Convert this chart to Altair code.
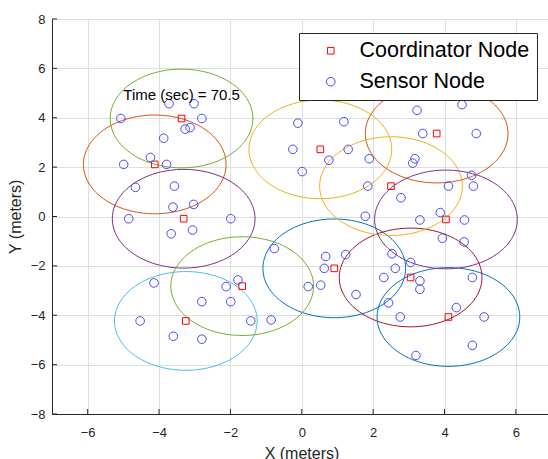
import altair as alt
import numpy as np
import pandas as pd

# Coordinator nodes, in plotting order; each one gets the next colour of the cycle
coord_x = [0.91, -4.12, 0.52, -3.31, -3.37, -3.25, 3.05, 4.11, 3.78, 2.50, 4.04, -1.67]
coord_y = [-2.10, 2.11, 2.72, -0.09, 3.97, -4.23, -2.47, -4.07, 3.36, 1.23, -0.12, -2.82]
range_colors = ["#0072BD", "#D95319", "#EDB120", "#7E2F8E", "#77AC30", "#4DBEEE", "#A2142F"]
coverage_radius = 2.0

# Sensor nodes
sensor_x = [-5.07, -3.72, -3.02, -2.80, -3.27, -3.13, -3.87, -4.24, -4.99, -3.79,
            -4.66, -3.57, -3.61, -3.03, -4.85, -1.99,
            3.23, 4.49, -0.11, 1.18, -0.25, 0.76, 1.30, 0.01, 1.89, 3.39,
            4.89, 3.17, 3.11, 4.76, 4.81, 4.11, 1.85, 2.78, 1.78, 3.31, 3.88, 4.56,
            -3.66, -3.06, -0.77, -4.14, -1.79, -2.12, -2.80, -1.99, -4.53, -1.43,
            -0.86, -3.60, -2.80,
            0.67, 1.23, 0.63, 0.18, 0.53, 1.52, 2.53, 2.62, 2.30, 3.05, 3.31, 3.31,
            2.43, 2.76, 3.94, 4.55, 4.78, 4.33, 5.11, 4.78, 3.20]
sensor_y = [3.97, 4.57, 4.57, 3.97, 3.54, 3.60, 3.17, 2.39, 2.11, 2.11,
            1.18, 1.23, 0.38, 0.49, -0.09, -0.09,
            4.30, 4.53, 3.78, 3.84, 2.72, 2.28, 2.72, 1.82, 2.34, 3.36,
            3.36, 2.34, 2.16, 1.67, 1.23, 1.23, 1.23, 0.76, 0.01, -0.14, 0.16, -0.14,
            -0.70, -0.55, -1.30, -2.69, -2.57, -2.84, -3.45, -3.45, -4.23, -4.23,
            -4.19, -4.85, -4.97,
            -1.62, -1.54, -2.10, -2.84, -2.78, -3.16, -1.51, -2.10, -2.47, -1.86, -2.61, -2.95,
            -3.50, -4.07, -0.88, -1.03, -2.47, -3.69, -4.07, -5.22, -5.63]

x_ticks = [-6, -4, -2, 0, 2, 4, 6]
y_ticks = [-8, -6, -4, -2, 0, 2, 4, 6, 8]
x_domain = [-7, 6.9]
y_domain = [-8, 8]

time_label = "Time (sec) = 70.5"
time_label_x = -5.0
time_label_y = 4.73

kinds = ["Coordinator Node", "Sensor Node"]

W, H = 496, 395
FONT = "Liberation Sans"
AX = "#262626"

# Coverage circle outlines around each coordinator
angles = np.deg2rad(np.arange(0, 361, 4))
rows = []
for i, (cx, cy) in enumerate(zip(coord_x, coord_y)):
    for k, a in enumerate(angles):
        rows.append({"id": i, "k": k,
                     "x": cx + coverage_radius * np.cos(a),
                     "y": cy + coverage_radius * np.sin(a),
                     "color": range_colors[i % len(range_colors)]})
rings = pd.DataFrame(rows)

nodes = pd.concat([
    pd.DataFrame({"x": coord_x, "y": coord_y, "kind": kinds[0]}),
    pd.DataFrame({"x": sensor_x, "y": sensor_y, "kind": kinds[1]}),
], ignore_index=True)

xs = alt.Scale(domain=x_domain, nice=False, zero=False)
ys = alt.Scale(domain=y_domain, nice=False, zero=False)

x_axis = alt.Axis(values=x_ticks, title="X (meters)", grid=True, gridColor="#dfdfdf",
                  ticks=False, tickSize=0, labelPadding=12.5, labelFontSize=13,
                  labelFont=FONT, labelColor=AX, domainColor=AX, domainWidth=1,
                  titleFont=FONT, titleFontSize=16, titleColor=AX, titleFontWeight="normal",
                  titleX=249.5, titleY=44.8, titleAlign="center", titleBaseline="alphabetic")
y_axis = alt.Axis(values=y_ticks, title="Y (meters)", grid=True, gridColor="#dfdfdf",
                  ticks=False, tickSize=0, labelPadding=7, labelFontSize=13,
                  labelFont=FONT, labelColor=AX, domainColor=AX, domainWidth=1,
                  titleFont=FONT, titleFontSize=16, titleColor=AX, titleFontWeight="normal",
                  titleX=-32, titleY=197.3, titleAngle=270, titleAlign="center",
                  titleBaseline="alphabetic")

X = lambda f: alt.X(f, scale=xs, axis=x_axis, title="X (meters)")
Y = lambda f: alt.Y(f, scale=ys, axis=y_axis, title="Y (meters)")

ring_layer = alt.Chart(rings).mark_line(strokeWidth=1, clip=True).encode(
    x=X("x:Q"),
    y=Y("y:Q"),
    color=alt.Color("color:N", scale=None),
    detail="id:N",
    order="k:Q",
)

leg = alt.Legend(title=None, orient="none", legendX=247, legendY=14, padding=7,
                 strokeColor=AX, fillColor="white", labelFontSize=21.5, labelFont=FONT,
                 labelColor="black", labelLimit=400, symbolOffset=14, labelOffset=18,
                 rowPadding=8, symbolStrokeWidth=1, cornerRadius=0)

node_layer = alt.Chart(nodes).mark_point(filled=False, strokeWidth=1, opacity=1).encode(
    x=X("x:Q"),
    y=Y("y:Q"),
    shape=alt.Shape("kind:N", scale=alt.Scale(domain=kinds, range=["square", "circle"]), legend=leg),
    stroke=alt.Stroke("kind:N", scale=alt.Scale(domain=kinds, range=["#ff0000", "#4848ff"]), legend=leg),
    size=alt.Size("kind:N", scale=alt.Scale(domain=kinds, range=[44, 74]), legend=leg),
)

label_layer = alt.Chart(pd.DataFrame({"x": [time_label_x], "y": [time_label_y], "t": [time_label]})).mark_text(
    align="left", baseline="alphabetic", fontSize=15, font=FONT, color="black"
).encode(
    x=X("x:Q"),
    y=Y("y:Q"),
    text="t:N",
)

# Inward-pointing tick marks on both axes
xtick_layer = alt.Chart(pd.DataFrame({"x": x_ticks})).mark_rule(color=AX, strokeWidth=1).encode(
    x=X("x:Q"), y=alt.value(H), y2=alt.value(H - 5))
ytick_layer = alt.Chart(pd.DataFrame({"y": y_ticks})).mark_rule(color=AX, strokeWidth=1).encode(
    y=Y("y:Q"), x=alt.value(0), x2=alt.value(5))

chart = alt.layer(ring_layer, xtick_layer, ytick_layer, node_layer, label_layer).properties(
    width=W, height=H,
    autosize=alt.AutoSizeParams(type="none"),
    padding={"left": 52, "top": 19, "right": 0, "bottom": 45},
    background="white",
).configure_view(stroke=None)

chart.save("out.html", embed_options={"renderer": "svg", "actions": False})
